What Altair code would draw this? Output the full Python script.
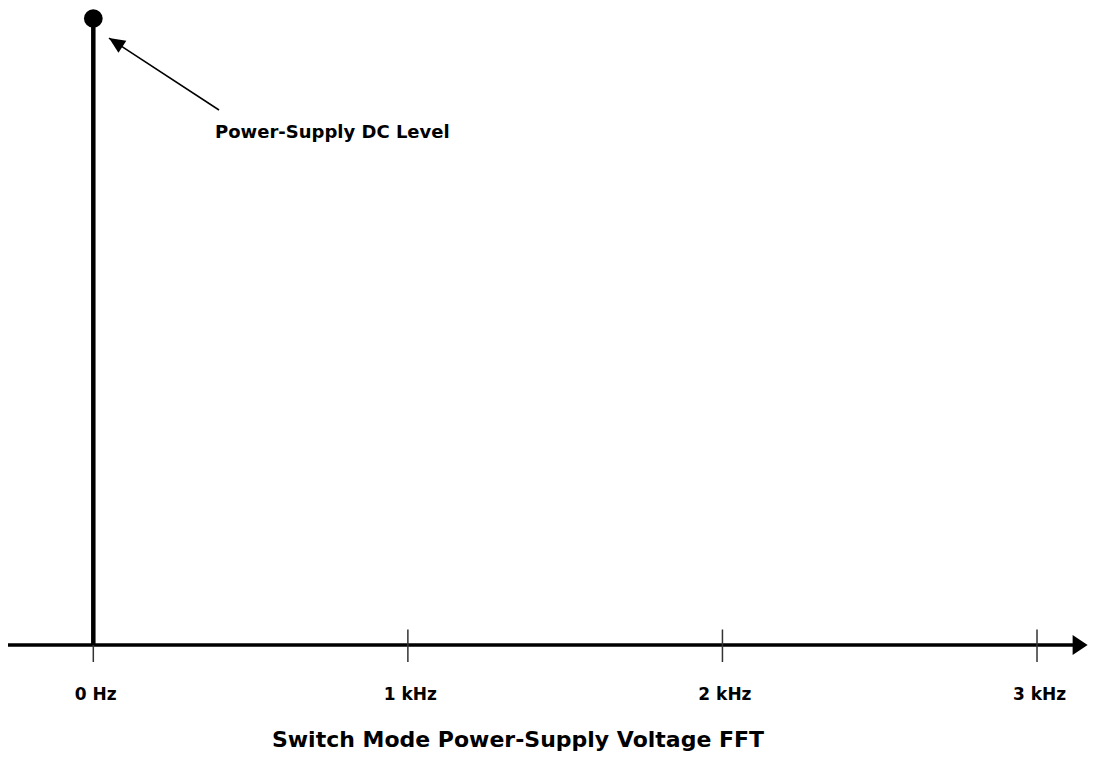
import altair as alt
import pandas as pd

# ---- data (frequency in kHz, amplitude normalised) ----
tick_freqs = [0, 1, 2, 3]
tick_labels = ["0 Hz", "1 kHz", "2 kHz", "3 kHz"]
dc_freq = [0]
dc_level = [1.0]
annotation_text = ["Power-Supply DC Level"]
annotation_from = [0.3996, 0.85395]   # (kHz, amplitude) tail of arrow
annotation_to = [0.0499, 0.96887]     # tip of arrow
annotation_text_pos = [0.3869, 0.80926]
title_text = ["Switch Mode Power-Supply Voltage FFT"]
title_pos = [1.3501, -0.16281]

X_MIN, X_MAX = -0.2712, 3.1621
Y_MIN, Y_MAX = -0.16919, 1.01676
FONT = "DejaVu Sans"

xs = alt.Scale(domain=[X_MIN, X_MAX], nice=False, zero=False)
ys = alt.Scale(domain=[Y_MIN, Y_MAX], nice=False, zero=False)

# axis line with arrow
axis_df = pd.DataFrame({"x": [X_MIN], "x2": [3.14], "y": [0.0]})
axis_line = alt.Chart(axis_df).mark_rule(color="black", strokeWidth=3.5).encode(
    x=alt.X("x:Q", scale=xs, axis=None),
    x2="x2:Q",
    y=alt.Y("y:Q", scale=ys, axis=None),
)
axis_head_df = pd.DataFrame({"x": [3.161], "y": [0.0]})
axis_head = alt.Chart(axis_head_df).mark_point(
    shape="M0,0L-1,-0.667L-1,0.667Z", size=900, filled=True, color="black", opacity=1, strokeWidth=0
).encode(x=alt.X("x:Q", scale=xs, axis=None), y=alt.Y("y:Q", scale=ys, axis=None))

# ticks
ticks_df = pd.DataFrame({"f": tick_freqs, "top": [0.02474] * 4, "bot": [-0.02714] * 4})
ticks = alt.Chart(ticks_df).mark_rule(color="#333333", strokeWidth=1.5).encode(
    x=alt.X("f:Q", scale=xs, axis=None),
    y=alt.Y("top:Q", scale=ys, axis=None),
    y2="bot:Q",
)

labels_df = pd.DataFrame({"f": [f + 0.0079 for f in tick_freqs], "y": [-0.08699] * 4, "t": tick_labels})
labels = alt.Chart(labels_df).mark_text(
    font=FONT, fontWeight="bold", fontSize=17, align="center", baseline="alphabetic", color="black"
).encode(x=alt.X("f:Q", scale=xs, axis=None), y=alt.Y("y:Q", scale=ys, axis=None), text="t:N")

# DC stem and dot
stem_df = pd.DataFrame({"f": dc_freq, "v": dc_level, "z": [0.0]})
stem = alt.Chart(stem_df).mark_rule(color="black", strokeWidth=4.5).encode(
    x=alt.X("f:Q", scale=xs, axis=None),
    y=alt.Y("z:Q", scale=ys, axis=None),
    y2="v:Q",
)
dot = alt.Chart(stem_df).mark_circle(size=350, color="black", opacity=1).encode(
    x=alt.X("f:Q", scale=xs, axis=None), y=alt.Y("v:Q", scale=ys, axis=None)
)

# annotation arrow
ann_df = pd.DataFrame({
    "x": [annotation_from[0]], "y": [annotation_from[1]],
    "x2": [annotation_to[0]], "y2": [annotation_to[1]],
})
ann_line = alt.Chart(ann_df).mark_rule(color="black", strokeWidth=1.5).encode(
    x=alt.X("x:Q", scale=xs, axis=None), y=alt.Y("y:Q", scale=ys, axis=None), x2="x2:Q", y2="y2:Q"
)
ann_head = alt.Chart(ann_df).mark_point(
    shape="M0,0L-1,-0.45L-1,0.45Z", size=1024, filled=True, color="black", opacity=1,
    strokeWidth=0, angle=213.2
).encode(x=alt.X("x2:Q", scale=xs, axis=None), y=alt.Y("y2:Q", scale=ys, axis=None))

ann_text_df = pd.DataFrame({"x": [annotation_text_pos[0]], "y": [annotation_text_pos[1]], "t": annotation_text})
ann_text = alt.Chart(ann_text_df).mark_text(
    font=FONT, fontWeight="bold", fontSize=18, align="left", baseline="alphabetic", color="black"
).encode(x=alt.X("x:Q", scale=xs, axis=None), y=alt.Y("y:Q", scale=ys, axis=None), text="t:N")

title_df = pd.DataFrame({"x": [title_pos[0]], "y": [title_pos[1]], "t": title_text})
title = alt.Chart(title_df).mark_text(
    font=FONT, fontWeight="bold", fontSize=22, align="center", baseline="alphabetic", color="black"
).encode(x=alt.X("x:Q", scale=xs, axis=None), y=alt.Y("y:Q", scale=ys, axis=None), text="t:N")

chart = alt.layer(
    axis_line, axis_head, ticks, labels, stem, dot, ann_line, ann_head, ann_text, title
).properties(
    width=1080, height=743, autosize=alt.AutoSizeParams(type="none"), padding=0, background="white"
).configure_view(stroke=None)

chart.save("out.html", embed_options={"renderer": "svg", "actions": False})
